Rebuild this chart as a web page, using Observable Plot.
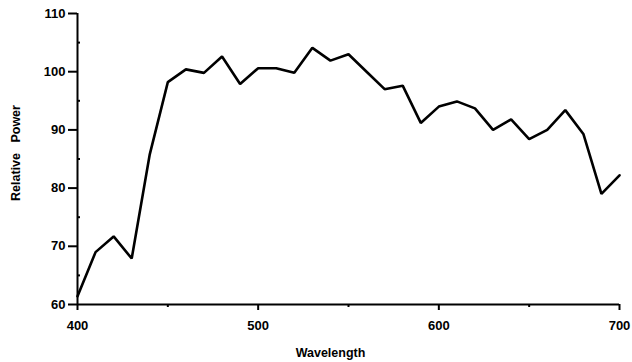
<!DOCTYPE html>
<html>
<head>
<meta charset="utf-8">
<script src="https://cdn.jsdelivr.net/npm/d3@7"></script>
<script src="https://cdn.jsdelivr.net/npm/@observablehq/plot@0.6"></script>
<style>
  html, body { margin: 0; padding: 0; background: #fff; }
</style>
</head>
<body>
<div id="chart"></div>
<script>
const wavelength = [400,410,420,430,440,450,460,470,480,490,500,510,520,530,540,550,560,570,580,590,600,610,620,630,640,650,660,670,680,690,700];
const power = [61.4,69.0,71.7,67.9,85.8,98.2,100.4,99.8,102.6,97.9,100.6,100.6,99.8,104.1,101.9,103.0,100.0,97.0,97.6,91.2,94.0,94.9,93.7,90.0,91.8,88.4,90.0,93.4,89.3,79.0,82.2];
const xTicks = [400,500,600,700];
const xMinor = [450,550,650];
const yTicks = [60,70,80,90,100,110];
const yMinor = [65,75,85,95,105];
const xLabel = "Wavelength";
const yLabel = "Relative   Power";

const data = wavelength.map((w,i) => ({w, p: power[i]}));

const chart = Plot.plot({
  width: 632,
  height: 362,
  marginLeft: 77,
  marginRight: 13,
  marginTop: 13,
  marginBottom: 58,
  style: {fontFamily: '"Liberation Sans", Arial, sans-serif', fontWeight: "bold", background: "#fff", color: "#000"},
  x: {domain: [400,700]},
  y: {domain: [60,110]},
  marks: [
    Plot.axisY({ticks: yTicks, tickSize: 9, tickPadding: 3, fontSize: 13, label: null, stroke: "#000", fill: "#000", strokeWidth: 2}),
    Plot.axisY({ticks: yMinor, tickSize: 3, dx: 3, text: null, label: null, stroke: "#000", strokeWidth: 2}),
    Plot.axisX({ticks: xTicks, tickSize: 6, tickPadding: 10, fontSize: 13, label: null, stroke: "#000", fill: "#000", strokeWidth: 2, style: "letter-spacing: 1.5px"}),
    Plot.axisX({ticks: xMinor, tickSize: 3, text: null, label: null, stroke: "#000", strokeWidth: 2}),
    Plot.ruleX([400], {stroke: "#000", strokeWidth: 2}),
    Plot.ruleY([60], {stroke: "#000", strokeWidth: 2}),
    Plot.line(data, {x: "w", y: "p", stroke: "#000", strokeWidth: 2.6, strokeLinejoin: "miter"}),
    Plot.text([xLabel], {text: d => d, frameAnchor: "bottom", textAnchor: "middle", dy: 52, dx: -18, fontSize: 12.5, fontWeight: "bold", fill: "#000"}),
    Plot.text([yLabel], {text: d => d, frameAnchor: "left", textAnchor: "middle", rotate: -90, dx: -61.5, dy: -6, fontSize: 12.5, fontWeight: "bold", fill: "#000", style: "white-space: pre; letter-spacing: 2px"})
  ]
});
document.getElementById("chart").appendChild(chart);
</script>
</body>
</html>
